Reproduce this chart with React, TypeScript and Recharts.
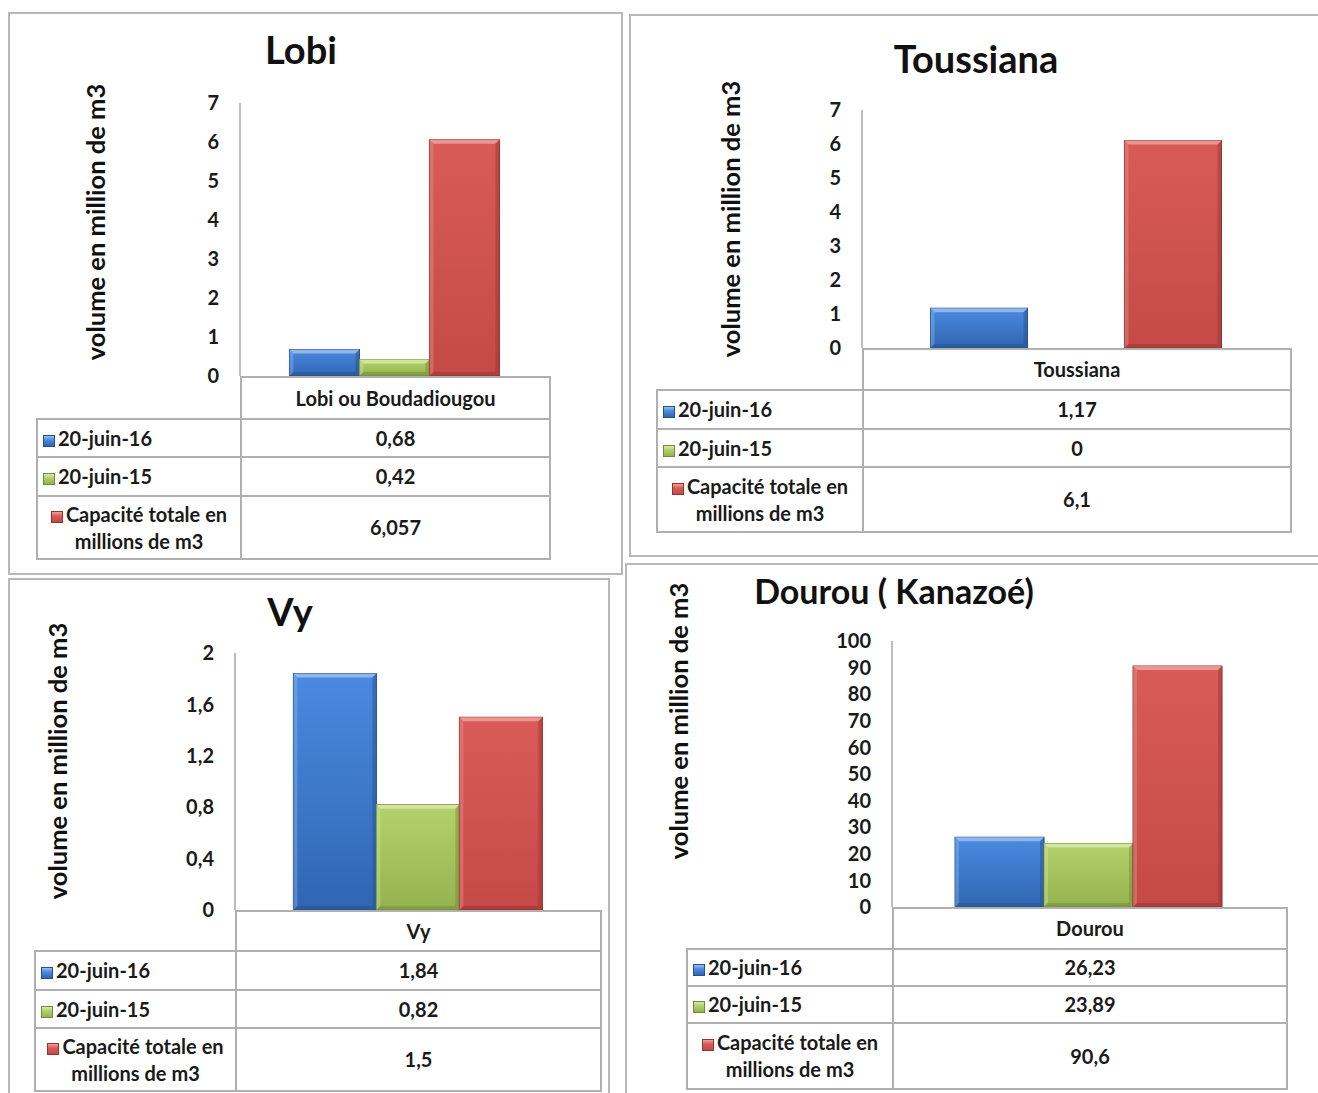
import React from "react";
import { BarChart, Bar, XAxis, YAxis } from "recharts";

// données
const titles = ["Lobi", "Toussiana", "Vy", "Dourou ( Kanazoé)"];
const sites = ["Lobi ou Boudadiougou", "Toussiana", "Vy", "Dourou"];
const seriesNames = ["20-juin-16", "20-juin-15", "Capacité totale en millions de m3"];
const juin16 = [0.68, 1.17, 1.84, 26.23];
const juin15 = [0.42, 0, 0.82, 23.89];
const capacite = [6.057, 6.1, 1.5, 90.6];
const yMax = [7, 7, 2, 100];
const yTicks = [
  [0, 1, 2, 3, 4, 5, 6, 7],
  [0, 1, 2, 3, 4, 5, 6, 7],
  [0, 0.4, 0.8, 1.2, 1.6, 2],
  [0, 10, 20, 30, 40, 50, 60, 70, 80, 90, 100],
];
const yLabel = "volume en million de m3";

// mise en page (pixels de la page)
const panels = [
  { frame: [8, 12, 615, 563], title: [301, 49], tSize: 38, ylab: [95, 222], axisX: 240, yTop: 103, yZero: 376, right: 549, tLeft: 36, rows: [376, 418, 456, 495, 558] },
  { frame: [629, 14, 700, 543], title: [976, 58], tSize: 38, ylab: [730, 219], axisX: 862, yTop: 110, yZero: 348, right: 1290, tLeft: 656, rows: [348, 389, 428, 466, 531] },
  { frame: [8, 578, 602, 530], title: [290, 611], tSize: 38, ylab: [57, 761], axisX: 235, yTop: 653, yZero: 910, right: 600, tLeft: 34, rows: [910, 950, 989, 1027, 1090] },
  { frame: [625, 563, 700, 540], title: [894, 590], tSize: 34, ylab: [678, 721], axisX: 892, yTop: 641, yZero: 907, right: 1286, tLeft: 686, rows: [907, 948, 985, 1022, 1088] },
];

const colors = [
  { top: "#4a8ae0", bottom: "#3066b2", edge: "#24508e", light: "#9cc0f0", dark: "#234f8c" },
  { top: "#b3d26c", bottom: "#94b24d", edge: "#70893a", light: "#d8eaa8", dark: "#6f8a33" },
  { top: "#d85b57", bottom: "#c54a47", edge: "#943230", light: "#eea19e", dark: "#963231" },
];

const font = "Lato, 'Open Sans', sans-serif";
const fmt = (v: number) => String(v).replace(".", ",");
const keys = ["j16", "j15", "cap"];

const makeShape = (s: number, id: string) => (props: any) => {
  const { x, y, width, height } = props;
  if (!height || height <= 0) return <g />;
  const c = colors[s];
  const b = Math.min(4, height / 3);
  return (
    <g>
      <rect x={x} y={y} width={width} height={height} fill={`url(#${id})`} stroke={c.edge} strokeWidth={1} />
      <polygon points={`${x},${y} ${x + width},${y} ${x + width - b},${y + b} ${x + b},${y + b}`} fill={c.light} opacity={0.85} />
      <polygon points={`${x},${y} ${x + b},${y + b} ${x + b},${y + height - b} ${x},${y + height}`} fill={c.light} opacity={0.35} />
      <polygon points={`${x + width},${y} ${x + width - b},${y + b} ${x + width - b},${y + height - b} ${x + width},${y + height}`} fill={c.dark} opacity={0.45} />
      <polygon points={`${x},${y + height} ${x + b},${y + height - b} ${x + width - b},${y + height - b} ${x + width},${y + height}`} fill={c.dark} opacity={0.5} />
    </g>
  );
};

const Swatch = ({ s }: { s: number }) => (
  <span
    style={{
      display: "inline-block",
      width: 12,
      height: 12,
      marginRight: 3,
      verticalAlign: "-1px",
      background: `linear-gradient(${colors[s].light}, ${colors[s].top} 40%, ${colors[s].bottom})`,
      border: `1px solid ${colors[s].edge}`,
      boxSizing: "border-box",
    }}
  />
);

const border = "2px solid #b0b0b0";

const Cell = ({ x0, y0, x1, y1, children, align = "center" }: any) => (
  <div
    style={{
      position: "absolute",
      left: x0,
      top: y0,
      width: x1 - x0 + 2,
      height: y1 - y0 + 2,
      border,
      boxSizing: "border-box",
      display: "flex",
      alignItems: "center",
      justifyContent: align === "left" ? "flex-start" : "center",
      textAlign: "center",
      paddingLeft: align === "left" ? 5 : 0,
      fontFamily: font,
      fontWeight: 700,
      fontSize: 20,
      color: "#1a1a1a",
      lineHeight: "27px",
      background: "#fff",
    }}
  >
    {children}
  </div>
);

const Panel = ({ i }: { i: number }) => {
  const p = panels[i];
  const values = [juin16[i], juin15[i], capacite[i]];
  const data = [{ name: sites[i], j16: juin16[i], j15: juin15[i], cap: capacite[i] }];
  const yW = 60;
  const chartLeft = p.axisX - yW;
  const chartTop = p.yTop - 12;
  const [f0, f1, fw, fh] = p.frame;
  const r = p.rows;
  return (
    <>
      <div style={{ position: "absolute", left: f0, top: f1, width: fw, height: fh, border: "2px solid #b8b8b8", boxSizing: "border-box", background: "#fff" }} />
      <div
        style={{
          position: "absolute",
          left: p.title[0],
          top: p.title[1],
          transform: "translate(-50%, -50%)",
          fontFamily: font,
          fontWeight: 700,
          fontSize: p.tSize,
          whiteSpace: "nowrap",
          color: "#111",
        }}
      >
        {titles[i]}
      </div>
      <div
        style={{
          position: "absolute",
          left: p.ylab[0],
          top: p.ylab[1],
          transform: "translate(-50%, -50%) rotate(-90deg)",
          fontFamily: font,
          fontWeight: 700,
          fontSize: 25.5,
          whiteSpace: "nowrap",
          color: "#111",
        }}
      >
        {yLabel}
      </div>
      <div style={{ position: "absolute", left: chartLeft, top: chartTop }}>
        <BarChart
          width={p.right - chartLeft}
          height={p.yZero - p.yTop + 24}
          data={data}
          margin={{ top: 12, right: 0, bottom: 12, left: 0 }}
          barCategoryGap="16%"
          barGap={0}
        >
          <defs>
            {colors.map((c, s) => (
              <linearGradient key={s} id={`g${i}-${s}`} x1="0" y1="0" x2="0" y2="1">
                <stop offset="0%" stopColor={c.top} />
                <stop offset="100%" stopColor={c.bottom} />
              </linearGradient>
            ))}
          </defs>
          <XAxis dataKey="name" hide />
          <YAxis
            width={yW}
            domain={[0, yMax[i]]}
            ticks={yTicks[i]}
            interval={0}
            tickFormatter={fmt}
            tickLine={false}
            tickSize={6}
            tickMargin={15}
            axisLine={{ stroke: "#a8a8a8", strokeWidth: 1.5 }}
            tick={{ fill: "#1a1a1a", fontSize: 20, fontWeight: 700, fontFamily: font }}
          />
          {keys.map((k, s) => (
            <Bar key={k} dataKey={k} name={seriesNames[s]} fill={colors[s].top} shape={makeShape(s, `g${i}-${s}`)} isAnimationActive={false} />
          ))}
        </BarChart>
      </div>
      <Cell x0={p.axisX} y0={r[0]} x1={p.right} y1={r[1]}>{sites[i]}</Cell>
      {values.map((v, s) => (
        <React.Fragment key={s}>
          <Cell x0={p.tLeft} y0={r[s + 1]} x1={p.axisX} y1={r[s + 2]} align={s < 2 ? "left" : "center"}>
            <span style={{ padding: s < 2 ? 0 : "0 4px" }}>
              <Swatch s={s} />
              {seriesNames[s]}
            </span>
          </Cell>
          <Cell x0={p.axisX} y0={r[s + 1]} x1={p.right} y1={r[s + 2]}>{fmt(v)}</Cell>
        </React.Fragment>
      ))}
    </>
  );
};

export default function App() {
  return (
    <div style={{ position: "absolute", left: 0, top: 0, width: 1318, height: 1093, background: "#fff", overflow: "hidden" }}>
      {panels.map((_, i) => (
        <Panel key={i} i={i} />
      ))}
    </div>
  );
}
